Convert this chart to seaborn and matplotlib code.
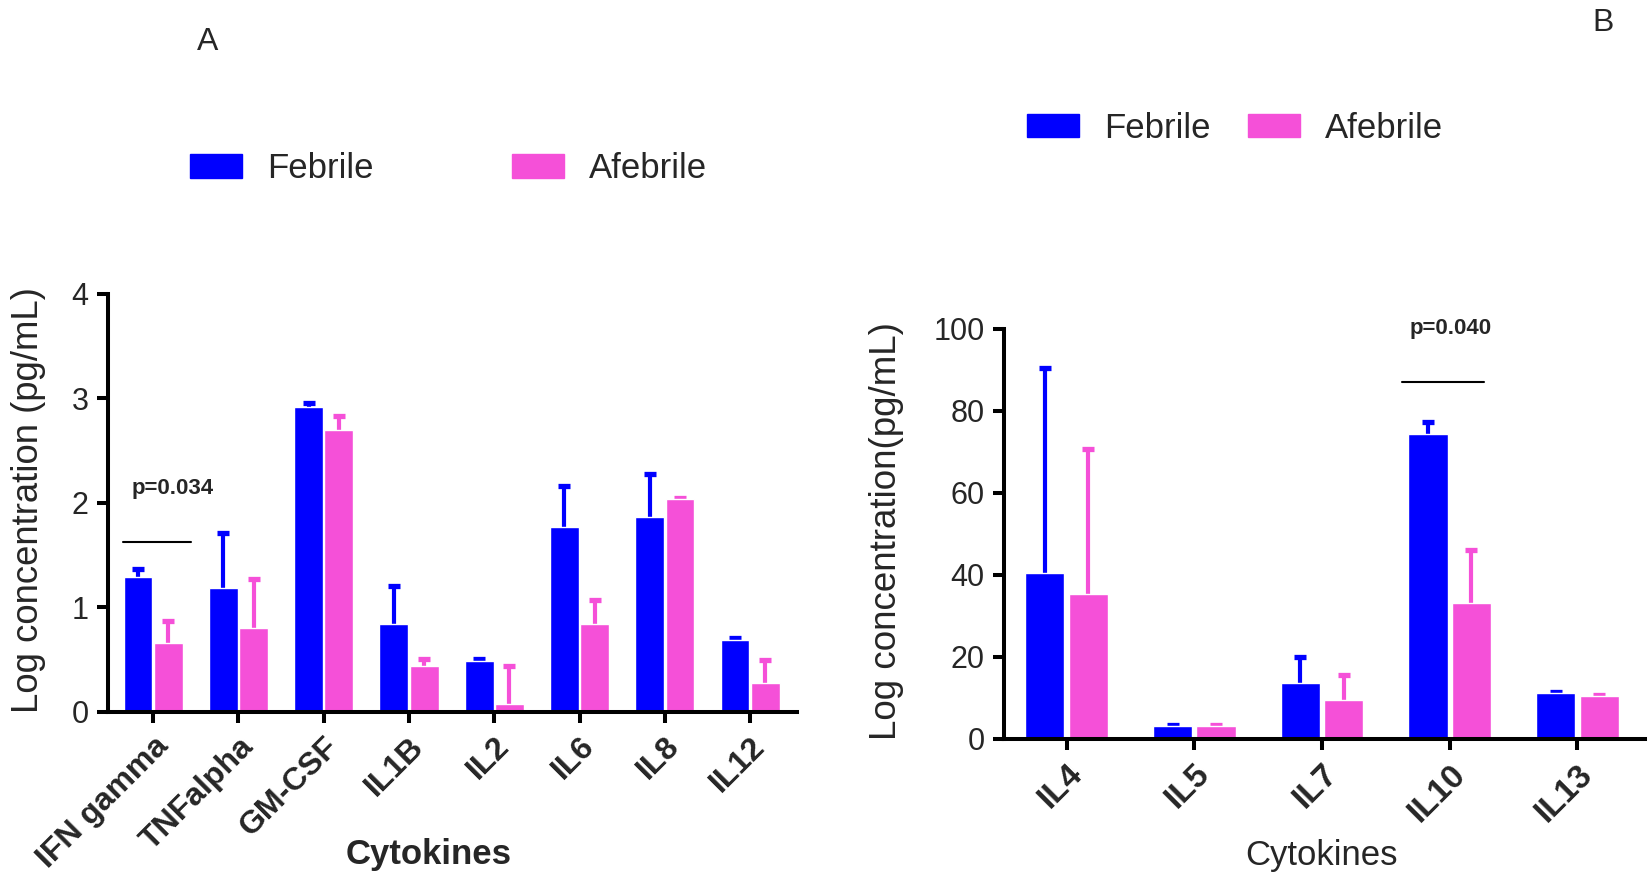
import numpy as np
import pandas as pd
import matplotlib
matplotlib.use("Agg")
import matplotlib.pyplot as plt
from matplotlib.patches import Patch
import seaborn as sns

# ---------------- data ----------------
cyto_a = ["IFN gamma", "TNFalpha", "GM-CSF", "IL1B", "IL2", "IL6", "IL8", "IL12"]
feb_a = [1.29, 1.19, 2.92, 0.84, 0.49, 1.77, 1.87, 0.69]
feb_a_err = [0.08, 0.52, 0.04, 0.37, 0.02, 0.39, 0.41, 0.02]
afeb_a = [0.66, 0.80, 2.70, 0.44, 0.08, 0.84, 2.04, 0.28]
afeb_a_err = [0.21, 0.47, 0.13, 0.07, 0.36, 0.23, 0.01, 0.22]

cyto_b = ["IL4", "IL5", "IL7", "IL10", "IL13"]
feb_b = [40.5, 3.1, 13.7, 74.5, 11.2]
feb_b_err = [50.1, 0.2, 6.3, 2.9, 0.2]
afeb_b = [35.4, 3.1, 9.4, 33.2, 10.6]
afeb_b_err = [35.4, 0.3, 6.1, 12.8, 0.1]

groups = ["Febrile", "Afebrile"]
colors = ["#0000FF", "#F550D8"]

pval_a = "p=0.034"
pval_b = "p=0.040"

# ---------------- style ----------------
sns.set_theme(style="ticks")
plt.rcParams["font.family"] = ["Liberation Sans", "DejaVu Sans"]

fig = plt.figure(figsize=(16.49, 8.74), dpi=100)
axA = fig.add_axes([0.0655, 0.1854, 0.4178, 0.4783])
axB = fig.add_axes([0.6089, 0.1545, 0.3887, 0.4691])


def make_df(cats, f, a):
    return pd.DataFrame({
        "cytokine": cats * 2,
        "value": list(f) + list(a),
        "group": [groups[0]] * len(cats) + [groups[1]] * len(cats),
    })


def draw(ax, cats, f, ferr, a, aerr, width, gap):
    df = make_df(cats, f, a)
    sns.barplot(data=df, x="cytokine", y="value", hue="group", order=cats,
                hue_order=groups, palette=colors, errorbar=None, width=width,
                gap=gap, saturation=1, ax=ax, legend=False, zorder=2)
    for cont, errs, col in zip(ax.containers, [ferr, aerr], colors):
        xs = [p.get_x() + p.get_width() / 2 for p in cont.patches]
        hs = [p.get_height() for p in cont.patches]
        _, caps, _ = ax.errorbar(xs, hs, yerr=[np.zeros(len(errs)), errs],
                                 fmt="none", ecolor=col, elinewidth=3.0,
                                 capsize=4.2, capthick=3.8, zorder=1)
        caps[0].set_visible(False)
    for sp in ["top", "right"]:
        ax.spines[sp].set_visible(False)
    for sp in ["left", "bottom"]:
        ax.spines[sp].set_linewidth(2.9)
        ax.spines[sp].set_color("black")
        ax.spines[sp].set_zorder(3)
    ax.tick_params(axis="both", width=2.9, length=8, color="black",
                   direction="out", pad=6)


draw(axA, cyto_a, feb_a, feb_a_err, afeb_a, afeb_a_err, 0.71, 0.05)
draw(axB, cyto_b, feb_b, feb_b_err, afeb_b, afeb_b_err, 0.68, 0.10)

# panel A axes
axA.set_xlim(-0.53, 7.55)
axA.set_ylim(0, 4)
axA.set_yticks([0, 1, 2, 3, 4])
axA.set_yticklabels(["0", "1", "2", "3", "4"], fontsize=22)
axA.set_xticks(range(len(cyto_a)))
axA.set_xticklabels(cyto_a, rotation=45, ha="right", rotation_mode="anchor",
                    fontsize=23, fontweight="bold")
axA.set_ylabel("Log concentration (pg/mL)", fontsize=26.3)
axA.yaxis.set_label_coords(-0.09, 0.507)
axA.set_xlabel("Cytokines", fontsize=25, fontweight="bold", va="center")
axA.xaxis.set_label_coords(0.465, -0.34)

# panel B axes
axB.set_xlim(-0.49, 4.53)
axB.set_ylim(0, 100)
axB.set_yticks([0, 20, 40, 60, 80, 100])
axB.set_yticklabels(["0", "20", "40", "60", "80", "100"], fontsize=22)
axB.set_xticks(range(len(cyto_b)))
axB.set_xticklabels(cyto_b, rotation=45, ha="right", rotation_mode="anchor",
                    fontsize=24, fontweight="bold")
axB.set_ylabel("Log concentration(pg/mL)", fontsize=26.5)
axB.yaxis.set_label_coords(-0.156, 0.506)
axB.set_xlabel("Cytokines", fontsize=25, va="center")
axB.xaxis.set_label_coords(0.495, -0.285)

# significance annotations
axA.plot([-0.36, 0.445], [1.627, 1.627], color="black", lw=1.5, clip_on=False)
axA.text(0.23, 2.14, pval_a, fontsize=16, fontweight="bold", color="#262626",
         ha="center", va="center")
axB.plot([2.63, 3.27], [87.1, 87.1], color="black", lw=1.5, clip_on=False)
axB.text(3.01, 100.2, pval_b, fontsize=16, fontweight="bold", color="#262626",
         ha="center", va="center")

# legends
handles = [Patch(facecolor=c, edgecolor=c) for c in colors]
fig.legend(handles, groups, loc="center", bbox_to_anchor=(0.272, 0.807),
           ncol=2, frameon=False, fontsize=25, handlelength=1.5,
           handleheight=0.65, handletextpad=0.7, columnspacing=4.0)
fig.legend(handles, groups, loc="center", bbox_to_anchor=(0.749, 0.853),
           ncol=2, frameon=False, fontsize=25, handlelength=1.5,
           handleheight=0.65, handletextpad=0.7, columnspacing=1.1)

# panel letters
fig.text(208 / 1649, 1 - 42 / 874, "A", fontsize=23, ha="center", va="center")
fig.text(1603 / 1649, 1 - 23 / 874, "B", fontsize=23, ha="center", va="center")

fig.savefig("out.png", dpi=100)
